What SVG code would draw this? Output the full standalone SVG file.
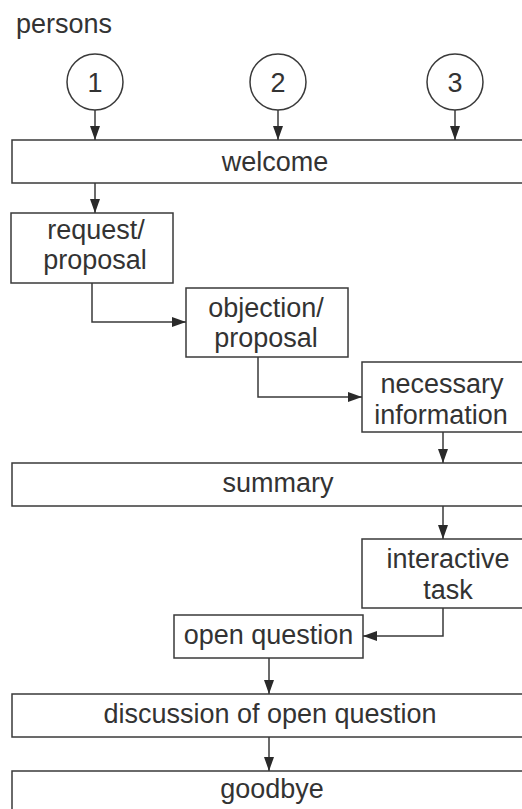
<svg xmlns="http://www.w3.org/2000/svg" width="522" height="809" viewBox="0 0 522 809">
<defs>
<style>
.box{fill:#fff;stroke:#3a3a3a;stroke-width:1.5}
.t{font-family:"Liberation Sans",Arial,sans-serif;font-size:27px;fill:#333;text-anchor:middle}
.c{fill:none;stroke:#3a3a3a;stroke-width:1.5}
</style>
<marker id="ah" markerUnits="userSpaceOnUse" markerWidth="14" markerHeight="10" refX="14" refY="5" orient="auto">
<path d="M0,0 L14,5 L0,10 z" fill="#2a2a2a"/>
</marker>
</defs>
<rect width="522" height="809" fill="#fff"/>
<text x="16" y="33" class="t" style="text-anchor:start">persons</text>
<g id="p1"><circle cx="95" cy="82" r="28" class="box"/><text x="95" y="92" class="t">1</text></g>
<g id="p2"><circle cx="278" cy="82" r="28" class="box"/><text x="278" y="92" class="t">2</text></g>
<g id="p3"><circle cx="455" cy="82" r="28" class="box"/><text x="455" y="92" class="t">3</text></g>
<g id="welcome"><rect x="12" y="140" width="520" height="43" class="box"/><text x="275" y="171" class="t">welcome</text></g>
<g id="request"><rect x="11" y="213" width="162" height="70" class="box"/><text x="96" y="239" class="t">request/</text><text x="95" y="269" class="t">proposal</text></g>
<g id="objection"><rect x="186" y="288" width="162" height="69" class="box"/><text x="266" y="317" class="t">objection/</text><text x="266" y="347" class="t">proposal</text></g>
<g id="necessary"><rect x="362" y="362" width="170" height="70" class="box"/><text x="442" y="393" class="t">necessary</text><text x="441" y="424" class="t">information</text></g>
<g id="summary"><rect x="12" y="463" width="520" height="43" class="box"/><text x="278" y="492" class="t">summary</text></g>
<g id="interactive"><rect x="362" y="539" width="170" height="69" class="box"/><text x="448" y="568" class="t">interactive</text><text x="448" y="599" class="t">task</text></g>
<g id="openq"><rect x="174" y="615" width="189" height="43" class="box"/><text x="268.5" y="644" class="t">open question</text></g>
<g id="discussion"><rect x="12" y="694" width="520" height="43" class="box"/><text x="270" y="723" class="t">discussion of open question</text></g>
<g id="goodbye"><rect x="12" y="771" width="520" height="60" class="box"/><text x="272" y="798" class="t">goodbye</text></g>
<g id="connectors">
<path d="M95,110 V140" class="c" marker-end="url(#ah)"/>
<path d="M278,110 V140" class="c" marker-end="url(#ah)"/>
<path d="M455,110 V140" class="c" marker-end="url(#ah)"/>
<path d="M95,183 V213" class="c" marker-end="url(#ah)"/>
<path d="M92,283 V322 H186" class="c" marker-end="url(#ah)"/>
<path d="M258,357 V397 H362" class="c" marker-end="url(#ah)"/>
<path d="M443,432 V463" class="c" marker-end="url(#ah)"/>
<path d="M443,506 V539" class="c" marker-end="url(#ah)"/>
<path d="M443,608 V636 H363" class="c" marker-end="url(#ah)"/>
<path d="M269,658 V694" class="c" marker-end="url(#ah)"/>
<path d="M269,737 V771" class="c" marker-end="url(#ah)"/>
</g>
</svg>
